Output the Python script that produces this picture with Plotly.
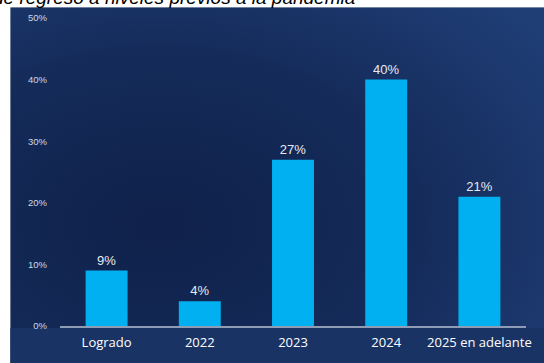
import base64
import plotly.graph_objects as go

categories = ["Logrado", "2022", "2023", "2024", "2025 en adelante"]
values = [9, 4, 27, 40, 21]
value_labels = ["9%", "4%", "27%", "40%", "21%"]
tick_vals = [0, 10, 20, 30, 40, 50]
tick_text = ["0%", "10%", "20%", "30%", "40%", "50%"]
title_text = "de regreso a niveles previos a la pandemia"

W, H = 544, 363
L, R, T, B = 60, 16, 17, 33
pw, ph = W - L - R, H - T - B

def px_x(x):
    return (x - L) / pw

def px_y(y):
    return (H - B - y) / ph

svg = f"""<svg xmlns='http://www.w3.org/2000/svg' width='560' height='380' viewBox='0 0 560 380'>
<defs>
<radialGradient id='g' cx='0.27' cy='0.58' r='0.85'>
<stop offset='0' stop-color='#0f214a'/>
<stop offset='0.5' stop-color='#142a58'/>
<stop offset='1' stop-color='#1f3e76'/>
</radialGradient>
</defs>
<rect x='0' y='0' width='560' height='380' fill='url(#g)'/>
<rect x='0' y='326' width='560' height='54' fill='#1a3365'/>
</svg>"""
src = "data:image/svg+xml;base64," + base64.b64encode(svg.encode()).decode()

fig = go.Figure(go.Bar(
    x=categories, y=values, text=value_labels,
    textposition="outside", cliponaxis=False,
    textfont=dict(color="#e6eaf2", size=13, family="Arial"),
    marker=dict(color="#00b0f0", line=dict(width=0)),
    hoverinfo="skip",
))

fig.update_layout(
    width=W, height=H,
    margin=dict(l=L, r=R, t=T, b=B),
    paper_bgcolor="white",
    plot_bgcolor="rgba(0,0,0,0)",
    bargap=0.55,
    showlegend=False,
    images=[dict(source=src, xref="paper", yref="paper",
                 x=px_x(10), y=px_y(6), sizex=px_x(570) - px_x(10),
                 sizey=px_y(6) - px_y(386), sizing="stretch",
                 xanchor="left", yanchor="top", layer="below")],
    annotations=[dict(text=title_text, xref="paper", yref="paper",
                      x=px_x(358), y=px_y(9), xanchor="right", yanchor="bottom",
                      showarrow=False,
                      font=dict(family="Arial", size=19, color="black", style="italic"))],
)
fig.update_xaxes(
    showgrid=False, showline=True, linecolor="#8e9cb6", linewidth=1.5,
    tickfont=dict(color="white", size=13, family="Open Sans"),
    ticklabelstandoff=4,
)
fig.update_yaxes(
    range=[0, 50], tickvals=tick_vals, ticktext=tick_text,
    showgrid=False, zeroline=False, showline=False,
    tickfont=dict(color="#d0d7e4", size=9.5, family="Arial"),
    ticklabelstandoff=12,
)
fig.write_html(
    "out.html",
    config={"displayModeBar": False, "staticPlot": True},
    post_script="document.body.style.margin='0';document.body.style.overflow='hidden';",
)
